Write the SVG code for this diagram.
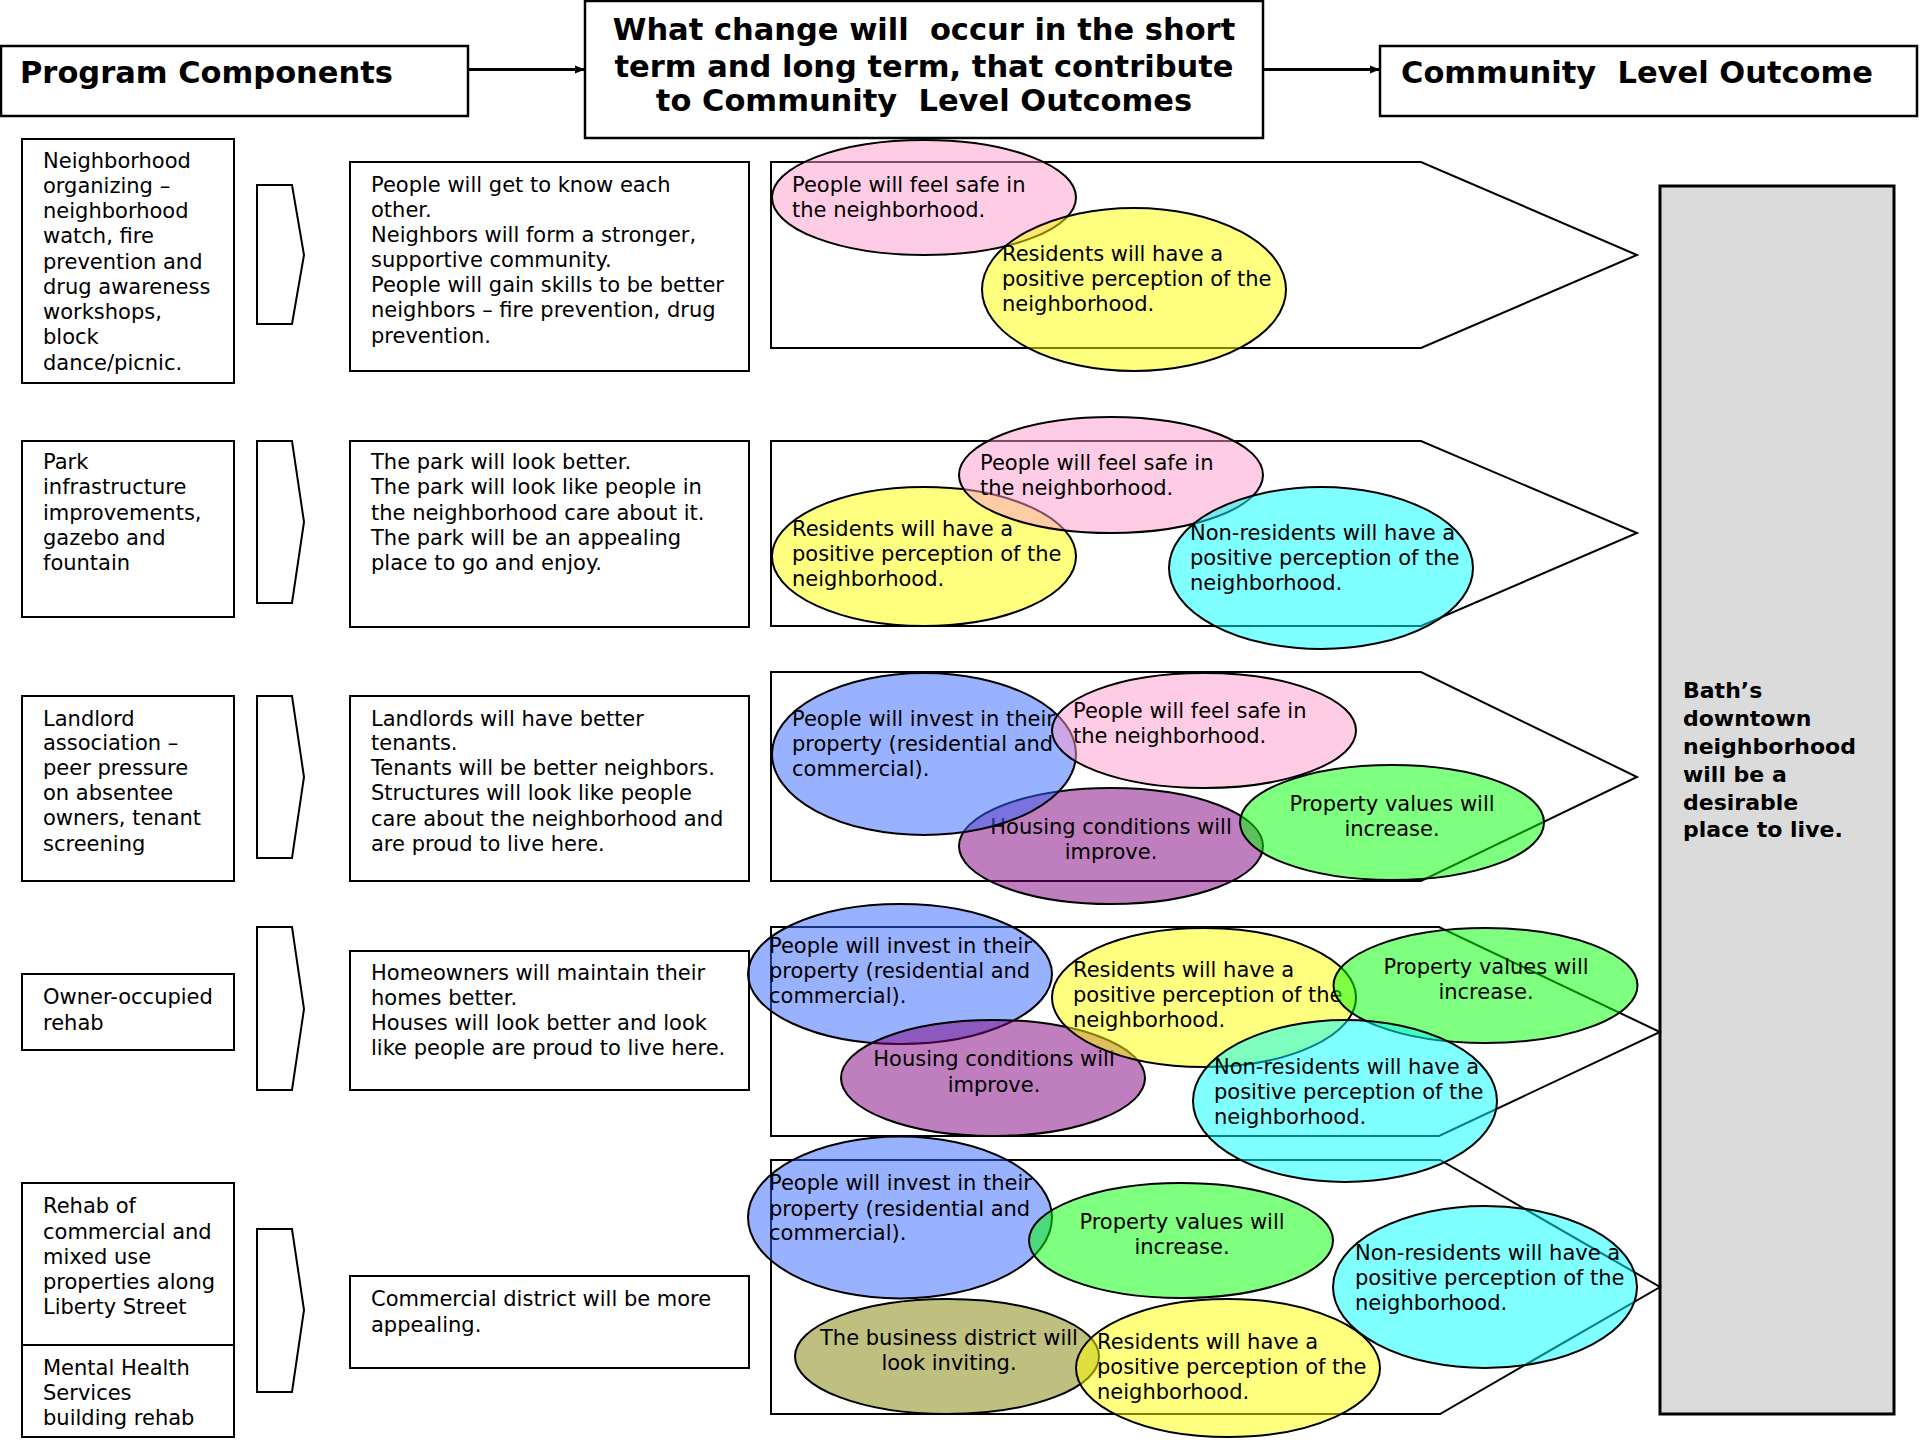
<svg xmlns="http://www.w3.org/2000/svg" width="1920" height="1440" viewBox="0 0 1920 1440">
<defs>
<style>
.box{fill:#fff;stroke:#000;stroke-width:2}
.hdr{fill:#fff;stroke:#000;stroke-width:2.5}
.chev{fill:#fff;stroke:#000;stroke-width:2}
.pent{fill:#fff;stroke:#000;stroke-width:2}
.t{font-family:"DejaVu Sans",Verdana,sans-serif;font-size:21px;fill:#000}
.c{text-anchor:middle}
.h{font-family:"DejaVu Sans",Verdana,sans-serif;font-weight:bold;font-size:30.5px;fill:#000}
.b{font-family:"DejaVu Sans",Verdana,sans-serif;font-weight:bold;font-size:22px;fill:#000}
.e{stroke:#000;stroke-width:2;fill-opacity:0.5}
.pink{fill:#FF99CC}.yellow{fill:#FFFF00}.cyan{fill:#00FFFF}.blue{fill:#3366FF}
.purple{fill:#800080}.green{fill:#00FF00}.olive{fill:#808000}
.conn{stroke:#000;stroke-width:3;fill:none}
</style>
<marker id="ah" markerWidth="10" markerHeight="10" refX="10" refY="5" orient="auto" markerUnits="userSpaceOnUse">
<path d="M0,1 L10,5 L0,9 z" fill="#000"/>
</marker>
</defs>
<rect width="1920" height="1440" fill="#fff"/>

<g id="hdr-program">
<rect class="hdr" x="1" y="46" width="467" height="70"/>
<text class="h" x="20" y="83">Program Components</text>
</g>
<g id="hdr-change">
<rect class="hdr" x="585" y="1" width="678" height="137"/>
<text class="h c" x="924" y="40" xml:space="preserve">What change will  occur in the short</text>
<text class="h c" x="924" y="77">term and long term, that contribute</text>
<text class="h c" x="924" y="111" xml:space="preserve">to Community  Level Outcomes</text>
</g>
<g id="hdr-outcome">
<rect class="hdr" x="1380" y="46" width="537" height="70"/>
<text class="h" x="1401" y="83" xml:space="preserve">Community  Level Outcome</text>
</g>

<g id="connectors">
<line class="conn" x1="468" y1="69.5" x2="585" y2="69.5" marker-end="url(#ah)"/>
<line class="conn" x1="1263" y1="69.5" x2="1380" y2="69.5" marker-end="url(#ah)"/>
</g>

<g id="outcome">
<rect x="1660" y="186" width="234" height="1228" fill="#DBDBDB" stroke="#000" stroke-width="3"/>
<text class="b" x="1683" y="698">Bath’s</text>
<text class="b" x="1683" y="726">downtown</text>
<text class="b" x="1683" y="754">neighborhood</text>
<text class="b" x="1683" y="782">will be a</text>
<text class="b" x="1683" y="810">desirable</text>
<text class="b" x="1683" y="837">place to live.</text>
</g>

<g id="comp-1">
<rect class="box" x="22" y="139" width="212" height="244"/>
<text class="t" x="43" y="168">Neighborhood</text>
<text class="t" x="43" y="193">organizing –</text>
<text class="t" x="43" y="218">neighborhood</text>
<text class="t" x="43" y="243">watch, fire</text>
<text class="t" x="43" y="269">prevention and</text>
<text class="t" x="43" y="294">drug awareness</text>
<text class="t" x="43" y="319">workshops,</text>
<text class="t" x="43" y="344">block</text>
<text class="t" x="43" y="370">dance/picnic.</text>
</g>
<g id="comp-2">
<rect class="box" x="22" y="441" width="212" height="176"/>
<text class="t" x="43" y="469">Park</text>
<text class="t" x="43" y="494">infrastructure</text>
<text class="t" x="43" y="520">improvements,</text>
<text class="t" x="43" y="545">gazebo and</text>
<text class="t" x="43" y="570">fountain</text>
</g>
<g id="comp-3">
<rect class="box" x="22" y="696" width="212" height="185"/>
<text class="t" x="43" y="726">Landlord</text>
<text class="t" x="43" y="750">association –</text>
<text class="t" x="43" y="775">peer pressure</text>
<text class="t" x="43" y="800">on absentee</text>
<text class="t" x="43" y="825">owners, tenant</text>
<text class="t" x="43" y="851">screening</text>
</g>
<g id="comp-4">
<rect class="box" x="22" y="974" width="212" height="76"/>
<text class="t" x="43" y="1004">Owner-occupied</text>
<text class="t" x="43" y="1030">rehab</text>
</g>
<g id="comp-5">
<rect class="box" x="22" y="1183" width="212" height="162"/>
<text class="t" x="43" y="1213">Rehab of</text>
<text class="t" x="43" y="1239">commercial and</text>
<text class="t" x="43" y="1264">mixed use</text>
<text class="t" x="43" y="1289">properties along</text>
<text class="t" x="43" y="1314">Liberty Street</text>
</g>
<g id="comp-6">
<rect class="box" x="22" y="1345" width="212" height="92"/>
<text class="t" x="43" y="1375">Mental Health</text>
<text class="t" x="43" y="1400">Services</text>
<text class="t" x="43" y="1425">building rehab</text>
</g>

<g id="chevrons">
<polygon class="chev" points="257,185 292,185 304,255 292,324 257,324"/>
<polygon class="chev" points="257,441 292,441 304,522 292,603 257,603"/>
<polygon class="chev" points="257,696 292,696 304,777 292,858 257,858"/>
<polygon class="chev" points="257,927 292,927 304,1009 292,1090 257,1090"/>
<polygon class="chev" points="257,1229 292,1229 304,1310 292,1392 257,1392"/>
</g>

<g id="change-1">
<rect class="box" x="350" y="162" width="399" height="209"/>
<text class="t" x="371" y="192">People will get to know each</text>
<text class="t" x="371" y="217">other.</text>
<text class="t" x="371" y="242">Neighbors will form a stronger,</text>
<text class="t" x="371" y="267">supportive community.</text>
<text class="t" x="371" y="292">People will gain skills to be better</text>
<text class="t" x="371" y="317">neighbors – fire prevention, drug</text>
<text class="t" x="371" y="343">prevention.</text>
</g>
<g id="change-2">
<rect class="box" x="350" y="441" width="399" height="186"/>
<text class="t" x="371" y="469">The park will look better.</text>
<text class="t" x="371" y="494">The park will look like people in</text>
<text class="t" x="371" y="520">the neighborhood care about it.</text>
<text class="t" x="371" y="545">The park will be an appealing</text>
<text class="t" x="371" y="570">place to go and enjoy.</text>
</g>
<g id="change-3">
<rect class="box" x="350" y="696" width="399" height="185"/>
<text class="t" x="371" y="726">Landlords will have better</text>
<text class="t" x="371" y="750">tenants.</text>
<text class="t" x="371" y="775">Tenants will be better neighbors.</text>
<text class="t" x="371" y="800">Structures will look like people</text>
<text class="t" x="371" y="826">care about the neighborhood and</text>
<text class="t" x="371" y="851">are proud to live here.</text>
</g>
<g id="change-4">
<rect class="box" x="350" y="951" width="399" height="139"/>
<text class="t" x="371" y="980">Homeowners will maintain their</text>
<text class="t" x="371" y="1005">homes better.</text>
<text class="t" x="371" y="1030">Houses will look better and look</text>
<text class="t" x="371" y="1055">like people are proud to live here.</text>
</g>
<g id="change-5">
<rect class="box" x="350" y="1276" width="399" height="92"/>
<text class="t" x="371" y="1306">Commercial district will be more</text>
<text class="t" x="371" y="1332">appealing.</text>
</g>

<g id="arrows-outcome">
<polygon class="pent" points="771,162 1421,162 1637,255 1421,348 771,348"/>
<polygon class="pent" points="771,441 1421,441 1637,533 1421,626 771,626"/>
<polygon class="pent" points="771,672 1421,672 1637,777 1421,881 771,881"/>
<polygon class="pent" points="771,927 1439,927 1660,1032 1439,1136 771,1136"/>
<polygon class="pent" points="771,1160 1440,1160 1660,1287 1440,1414 771,1414"/>
</g>

<!-- row 1 -->
<g id="r1-safe">
<ellipse class="e pink" cx="924" cy="197.5" rx="152" ry="57.5"/>
<text class="t" x="792" y="192">People will feel safe in</text>
<text class="t" x="792" y="217">the neighborhood.</text>
</g>
<g id="r1-residents">
<ellipse class="e yellow" cx="1134" cy="289.5" rx="152" ry="81.5"/>
<text class="t" x="1002" y="261">Residents will have a</text>
<text class="t" x="1002" y="286">positive perception of the</text>
<text class="t" x="1002" y="311">neighborhood.</text>
</g>

<!-- row 2 -->
<g id="r2-residents">
<ellipse class="e yellow" cx="924" cy="556.5" rx="152" ry="69.5"/>
<text class="t" x="792" y="536">Residents will have a</text>
<text class="t" x="792" y="561">positive perception of the</text>
<text class="t" x="792" y="586">neighborhood.</text>
</g>
<g id="r2-safe">
<ellipse class="e pink" cx="1111" cy="475" rx="152" ry="58"/>
<text class="t" x="980" y="470">People will feel safe in</text>
<text class="t" x="980" y="495">the neighborhood.</text>
</g>
<g id="r2-nonresidents">
<ellipse class="e cyan" cx="1321" cy="568" rx="152" ry="81"/>
<text class="t" x="1190" y="540">Non-residents will have a</text>
<text class="t" x="1190" y="565">positive perception of the</text>
<text class="t" x="1190" y="590">neighborhood.</text>
</g>

<!-- row 3 -->
<g id="r3-housing">
<ellipse class="e purple" cx="1111" cy="846" rx="152" ry="58"/>
<text class="t c" x="1111" y="834">Housing conditions will</text>
<text class="t c" x="1111" y="859">improve.</text>
</g>
<g id="r3-invest">
<ellipse class="e blue" cx="924" cy="754" rx="152" ry="81"/>
<text class="t" x="792" y="726">People will invest in their</text>
<text class="t" x="792" y="751">property (residential and</text>
<text class="t" x="792" y="776">commercial).</text>
</g>
<g id="r3-safe">
<ellipse class="e pink" cx="1204" cy="730.5" rx="152" ry="57.5"/>
<text class="t" x="1073" y="718">People will feel safe in</text>
<text class="t" x="1073" y="743">the neighborhood.</text>
</g>
<g id="r3-values">
<ellipse class="e green" cx="1392" cy="822.5" rx="152" ry="57.5"/>
<text class="t c" x="1392" y="811">Property values will</text>
<text class="t c" x="1392" y="836">increase.</text>
</g>

<!-- row 4 -->
<g id="r4-invest">
<ellipse class="e blue" cx="900" cy="974" rx="152" ry="70"/>
<text class="t" x="769" y="953">People will invest in their</text>
<text class="t" x="769" y="978">property (residential and</text>
<text class="t" x="769" y="1003">commercial).</text>
</g>
<g id="r4-housing">
<ellipse class="e purple" cx="993" cy="1078" rx="152" ry="58"/>
<text class="t c" x="994" y="1066">Housing conditions will</text>
<text class="t c" x="994" y="1092">improve.</text>
</g>
<g id="r4-residents">
<ellipse class="e yellow" cx="1204" cy="997.5" rx="152" ry="69.5"/>
<text class="t" x="1073" y="977">Residents will have a</text>
<text class="t" x="1073" y="1002">positive perception of the</text>
<text class="t" x="1073" y="1027">neighborhood.</text>
</g>
<g id="r4-values">
<ellipse class="e green" cx="1485.5" cy="985.5" rx="152" ry="57.5"/>
<text class="t c" x="1486" y="974">Property values will</text>
<text class="t c" x="1486" y="999">increase.</text>
</g>
<g id="r4-nonresidents">
<ellipse class="e cyan" cx="1345" cy="1101" rx="152" ry="81"/>
<text class="t" x="1214" y="1074">Non-residents will have a</text>
<text class="t" x="1214" y="1099">positive perception of the</text>
<text class="t" x="1214" y="1124">neighborhood.</text>
</g>

<!-- row 5 -->
<g id="r5-invest">
<ellipse class="e blue" cx="900" cy="1217.5" rx="152" ry="81"/>
<text class="t" x="769" y="1190">People will invest in their</text>
<text class="t" x="769" y="1216">property (residential and</text>
<text class="t" x="769" y="1240">commercial).</text>
</g>
<g id="r5-values">
<ellipse class="e green" cx="1181" cy="1240.5" rx="152" ry="57.5"/>
<text class="t c" x="1182" y="1229">Property values will</text>
<text class="t c" x="1182" y="1254">increase.</text>
</g>
<g id="r5-nonresidents">
<ellipse class="e cyan" cx="1485" cy="1287" rx="152" ry="81"/>
<text class="t" x="1355" y="1260">Non-residents will have a</text>
<text class="t" x="1355" y="1285">positive perception of the</text>
<text class="t" x="1355" y="1310">neighborhood.</text>
</g>
<g id="r5-business">
<ellipse class="e olive" cx="947" cy="1356.5" rx="152" ry="57.5"/>
<text class="t c" x="949" y="1345">The business district will</text>
<text class="t c" x="949" y="1370">look inviting.</text>
</g>
<g id="r5-residents">
<ellipse class="e yellow" cx="1228" cy="1368" rx="152" ry="69"/>
<text class="t" x="1097" y="1349">Residents will have a</text>
<text class="t" x="1097" y="1374">positive perception of the</text>
<text class="t" x="1097" y="1399">neighborhood.</text>
</g>
</svg>
